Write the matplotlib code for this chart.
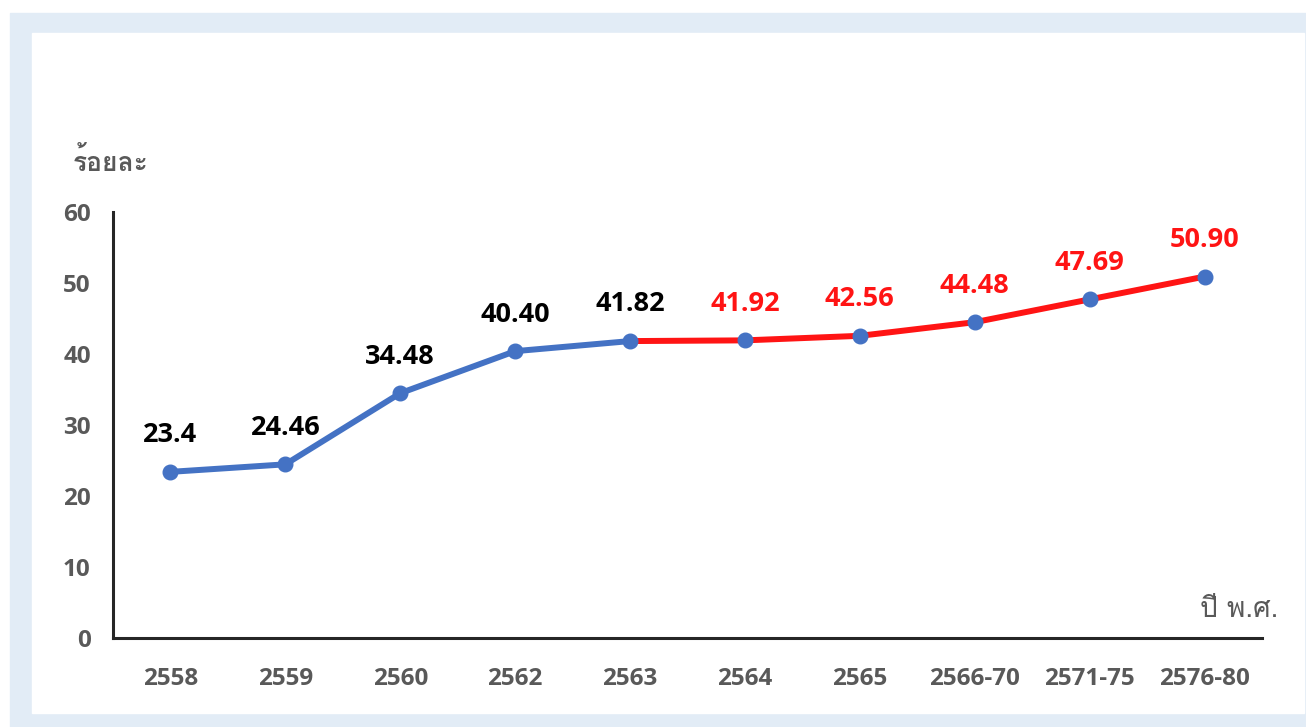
import matplotlib
matplotlib.use("Agg")
import matplotlib.pyplot as plt
from matplotlib import font_manager
from matplotlib.ft2font import FT2Font
from matplotlib.patches import Rectangle
from matplotlib.transforms import ScaledTranslation

years = ["2558", "2559", "2560", "2562", "2563", "2564", "2565",
         "2566-70", "2571-75", "2576-80"]
values = [23.4, 24.46, 34.48, 40.40, 41.82, 41.92, 42.56, 44.48, 47.69, 50.90]
labels = ["23.4", "24.46", "34.48", "40.40", "41.82", "41.92", "42.56",
          "44.48", "47.69", "50.90"]
n_actual = 5  # first five are actual, the rest projected

BLUE = "#4472c4"
RED = "#ff1414"
GRAY = "#595959"


def find_thai_font():
    for f in font_manager.fontManager.ttflist:
        try:
            if 0x0E23 in FT2Font(f.fname).get_charmap():
                return f.name
        except Exception:
            pass
    return "DejaVu Sans"


thai = find_thai_font()
plt.rcParams["font.family"] = ["Open Sans", thai, "DejaVu Sans"]

fig = plt.figure(figsize=(13.06, 7.27), dpi=100)
W, H = 1306, 727
# light blue frame around a white panel
fig.patches.append(Rectangle((10 / W, 0), 1, 1 - 13 / H, transform=fig.transFigure,
                             color="#e2ecf6", zorder=-2))
fig.patches.append(Rectangle((32 / W, (H - 713) / H), (1304 - 32) / W, (713 - 33) / H,
                             transform=fig.transFigure, color="white", zorder=-1))

ax = fig.add_axes([113 / W, (H - 638) / H, (1262 - 113) / W, (638 - 212) / H])
ax.patch.set_alpha(0)
x = list(range(len(years)))

ax.plot(x[:n_actual], values[:n_actual], color=BLUE, lw=4.3, solid_capstyle="round", zorder=2)
ax.plot(x[n_actual - 1:], values[n_actual - 1:], color=RED, lw=4.3, solid_capstyle="round", zorder=2)
ax.plot(x, values, "o", color=BLUE, ms=10.5, zorder=3)

lift = ax.transData + ScaledTranslation(0, 17 / 72, fig.dpi_scale_trans)
for i, (xi, v, t) in enumerate(zip(x, values, labels)):
    ax.text(xi, v, t, ha="center", va="bottom", fontsize=19.5, weight="bold",
            color="black" if i < n_actual else RED, transform=lift)

ax.set_xlim(-0.5, 9.5)
ax.set_ylim(0, 60)
ax.set_yticks(range(0, 61, 10))
ax.set_xticks(x)
ax.set_xticklabels(years)
for s in ["top", "right"]:
    ax.spines[s].set_visible(False)
for s in ["left", "bottom"]:
    ax.spines[s].set_linewidth(2.2)
    ax.spines[s].set_color("#262626")
ax.tick_params(length=0, labelsize=17.5, labelcolor=GRAY)
ax.tick_params(axis="x", pad=21)
ax.tick_params(axis="y", pad=16)
for lab in ax.get_xticklabels() + ax.get_yticklabels():
    lab.set_fontweight("bold")

fig.text(73 / W, 1 - 162 / H, "ร้อยละ", fontsize=19, color=GRAY, va="center", ha="left",
         family=[thai, "DejaVu Sans"], weight="bold")
fig.text(1278 / W, 1 - 610 / H, "ปี พ.ศ.", fontsize=20, color=GRAY, va="center", ha="right",
         family=[thai, "DejaVu Sans"])

fig.savefig("out.png", dpi=100)
